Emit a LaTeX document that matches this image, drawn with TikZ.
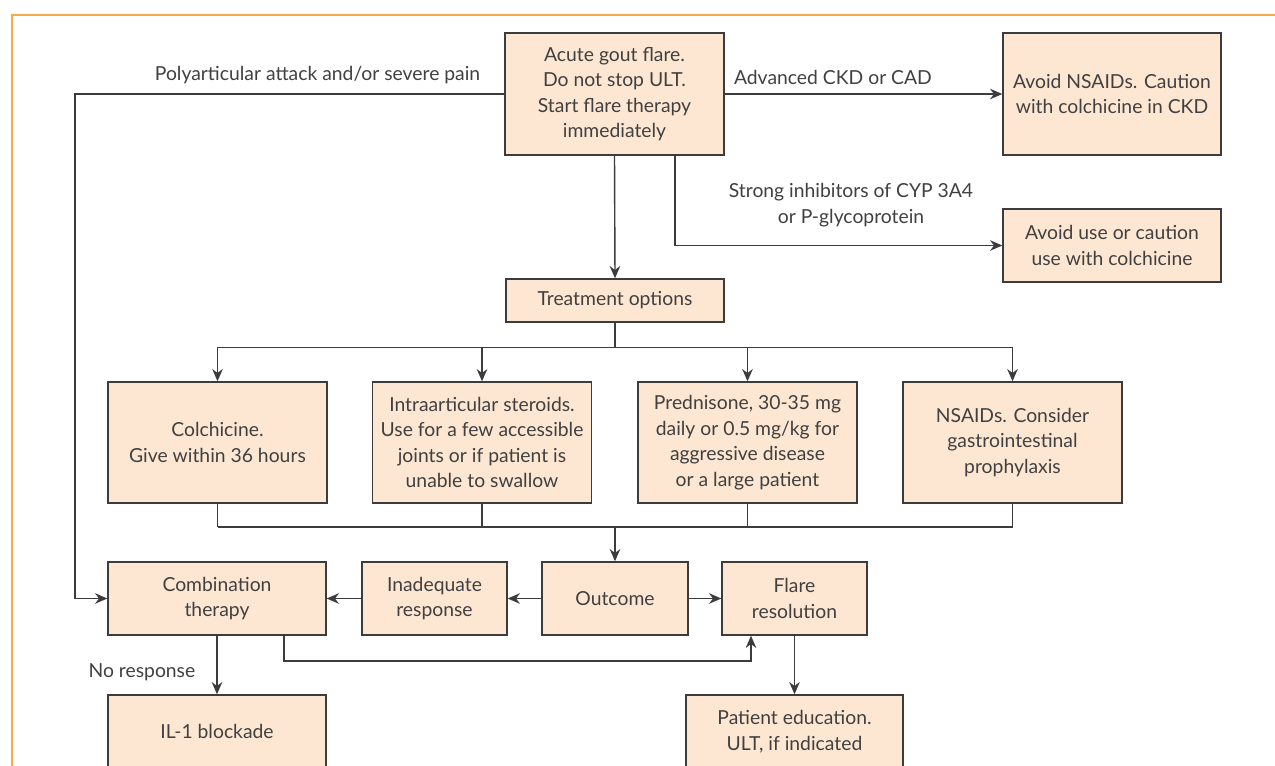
\documentclass[tikz,border=0pt]{standalone}
\usepackage{fontspec}
\setmainfont{Lato}
\usepackage{tikz}
\usetikzlibrary{arrows.meta}
\definecolor{frameorange}{HTML}{F9A84A}
\definecolor{boxfill}{HTML}{FDE7D3}
\definecolor{linegray}{HTML}{3C3C3C}
\definecolor{txtgray}{HTML}{404040}

\begin{document}
\begin{tikzpicture}[x=0.02cm,y=-0.02cm,>={Stealth[length=7pt,width=6pt]},
    font=\fontsize{11}{14.5}\selectfont,text=txtgray]
\tikzstyle{box} = [draw=linegray,fill=boxfill,rectangle,align=center,line width=0.8pt,inner sep=0pt]
\tikzstyle{conn} = [draw=linegray,line width=0.8pt]
\tikzstyle{lbl} = [align=center,inner sep=0pt]

\useasboundingbox (0,0) rectangle (1275,765);
\clip (0,0) rectangle (1275,765);
\draw[frameorange,line width=1.7pt] (12,770) -- (12,15) -- (1280,15);

% top
\node[box,minimum width=4.38cm,minimum height=2.44cm] (acute) at (614.5,94)
    {Acute gout flare.\\Do not stop ULT.\\Start flare therapy\\immediately};
\node[box,minimum width=4.36cm,minimum height=2.44cm] (nsaidavoid) at (1112,94)
    {Avoid NSAIDs. Caution\\with colchicine in CKD};
\node[box,minimum width=4.36cm,minimum height=1.46cm] (colavoid) at (1112,245.5)
    {Avoid use or caution\\use with colchicine};
\node[box,minimum width=4.36cm,minimum height=0.86cm] (treat) at (615,300.5) {Treatment options};

% options
\node[box,minimum width=4.38cm,minimum height=2.42cm] (colch) at (217.5,442.5)
    {Colchicine.\\Give within 36 hours};
\node[box,minimum width=4.38cm,minimum height=2.42cm] (intra) at (482,442.5)
    {Intraarticular steroids.\\Use for a few accessible\\joints or if patient is\\unable to swallow};
\node[box,minimum width=4.38cm,minimum height=2.42cm] (pred) at (747.5,442.5)
    {Prednisone, 30-35 mg\\daily or 0.5 mg/kg for\\aggressive disease\\or a large patient};
\node[box,minimum width=4.38cm,minimum height=2.42cm] (nsaid) at (1012.5,442.5)
    {NSAIDs. Consider\\gastrointestinal\\prophylaxis};

% outcome row
\node[box,minimum width=4.36cm,minimum height=1.46cm] (combo) at (217,598.5) {Combination\\therapy};
\node[box,minimum width=2.9cm,minimum height=1.46cm] (inadeq) at (434.5,598.5) {Inadequate\\response};
\node[box,minimum width=2.92cm,minimum height=1.46cm] (outcome) at (615,598.5) {Outcome};
\node[box,minimum width=2.9cm,minimum height=1.46cm] (flare) at (794.5,598.5) {Flare\\resolution};
\node[box,minimum width=4.36cm,minimum height=1.46cm] (il1) at (217,731.5) {IL-1 blockade};
\node[box,minimum width=4.34cm,minimum height=1.46cm] (patient) at (794.5,731.5)
    {Patient education.\\ULT, if indicated};

% connectors
\coordinate (lft) at (75,94);
\coordinate (inh) at (675,245.5);
\coordinate (mrg) at (615,527);
\coordinate (lp1) at (284,661);
\coordinate (lp2) at (751,661);

\draw[conn,->] (acute.west) -- node[lbl,above=0.18cm,pos=0.435] (polylbl)
    {Polyarticular attack and/or severe pain} (lft) |- (combo.west);
\draw[conn,->] (acute.east) -- node[lbl,above=0.18cm,pos=0.39] (ckdlbl)
    {Advanced CKD or CAD} (nsaidavoid.west);
\draw[conn,->] (inh |- acute.south) -- (inh) -- (colavoid.west);
\node[lbl] (inhlbl) at (851,205) {Strong inhibitors of CYP 3A4\\or P-glycoprotein};
\draw[conn,->] (acute.south) -- (treat.north);

\foreach \n in {colch,intra,pred,nsaid}
    \draw[conn,->] (treat.south) -- ++(0,25) -| (\n.north);

\foreach \n in {colch,intra,pred,nsaid}
    \draw[conn] (\n.south) -- (\n.south |- mrg);
\draw[conn] (colch.south |- mrg) -- (nsaid.south |- mrg);
\draw[conn,->] (mrg) -- (outcome.north);

\draw[conn,->] (outcome.west) -- (inadeq.east);
\draw[conn,->] (inadeq.west) -- (combo.east);
\draw[conn,->] (outcome.east) -- (flare.west);
\draw[conn,->] (combo.south) -- node[lbl,left=0.42cm,pos=0.63] (nolbl) {No response} (il1.north);
\draw[conn,->] (lp1 |- combo.south) -- (lp1) -- (lp2) -- (lp2 |- flare.south);
\draw[conn,->] (flare.south) -- (patient.north);

\end{tikzpicture}
\end{document}
